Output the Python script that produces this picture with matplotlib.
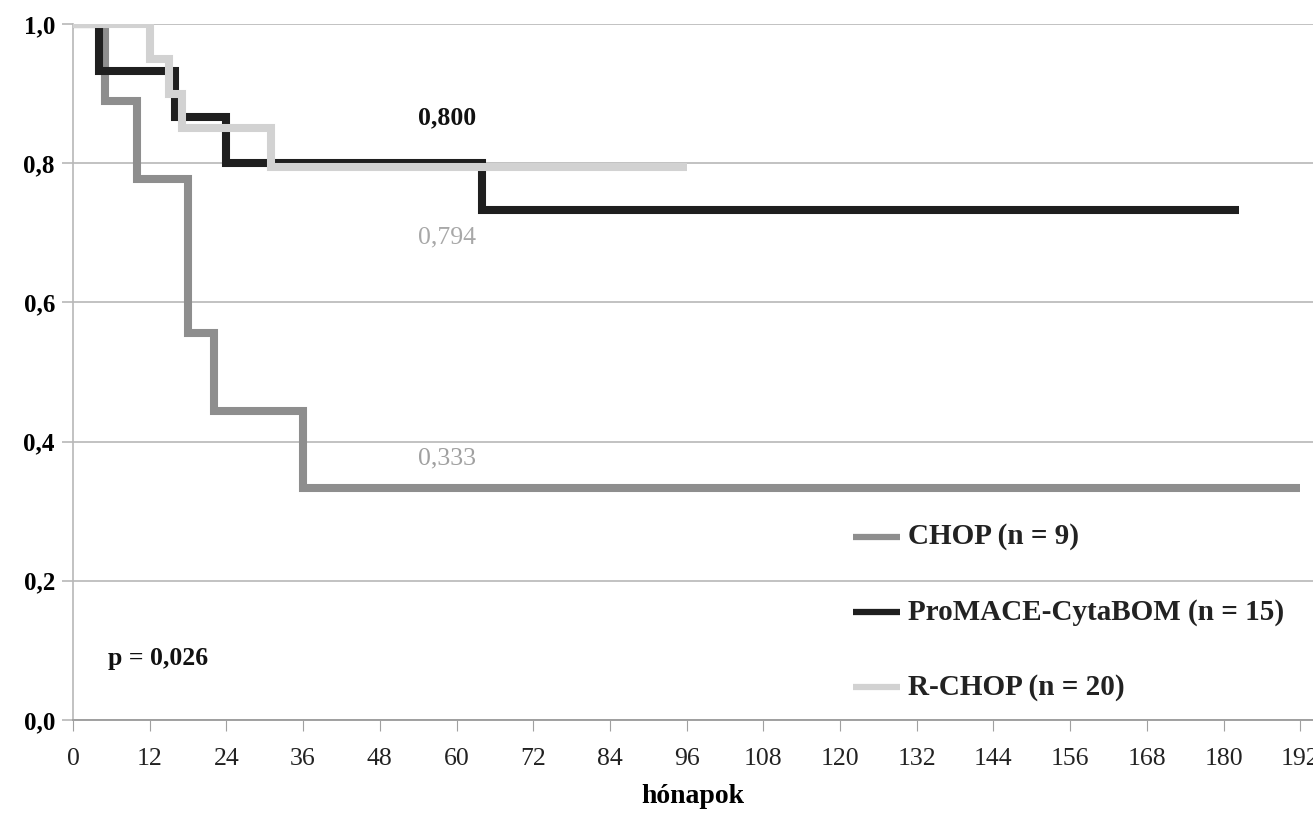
import matplotlib.pyplot as plt

plt.rcParams['font.family'] = ['Liberation Serif', 'DejaVu Serif']

# Kaplan-Meier steps (months, survival)
chop_t = [0, 5, 10, 18, 22, 36, 192]
chop_s = [1.0, 0.889, 0.778, 0.556, 0.444, 0.333, 0.333]

promace_t = [0, 4, 16, 24, 64, 182.5]
promace_s = [1.0, 0.933, 0.867, 0.800, 0.733, 0.733]

rchop_t = [0, 12, 15, 17, 31, 96]
rchop_s = [1.0, 0.950, 0.900, 0.850, 0.794, 0.794]

labels = ['CHOP (n = 9)', 'ProMACE-CytaBOM (n = 15)', 'R-CHOP (n = 20)']
colors = ['#8e8e8e', '#1f1f1f', '#d2d2d2']

x_ticks = list(range(0, 193, 12))
y_ticks = [0.0, 0.2, 0.4, 0.6, 0.8, 1.0]

fig = plt.figure(figsize=(13.13, 8.25), dpi=100)
ax = fig.add_axes([73 / 1313, 1 - 720 / 825, 1 - 73 / 1313, 696 / 825])

for t, s, c in [(chop_t, chop_s, colors[0]),
                (promace_t, promace_s, colors[1]),
                (rchop_t, rchop_s, colors[2])]:
    ax.step(t, s, where='post', color=c, lw=5.8, solid_joinstyle='miter',
            solid_capstyle='butt', zorder=3)

ax.set_xlim(0, 194)
ax.set_ylim(0, 1.0)
ax.set_xticks(x_ticks)
ax.set_xticklabels([str(v) for v in x_ticks], fontsize=18.5, color='#222222')
ax.set_yticks(y_ticks)
ax.set_yticklabels([f'{v:.1f}'.replace('.', ',') for v in y_ticks],
                   fontsize=18, fontweight='bold')
ax.grid(axis='y', color='#b8b8b8', lw=1.2, zorder=0)
ax.set_axisbelow(True)
ax.tick_params(axis='x', direction='out', length=8, color='#a0a0a0', pad=12)
ax.tick_params(axis='y', direction='out', length=8, color='#b8b8b8', width=1.2, pad=5)
for side in ['top', 'right']:
    ax.spines[side].set_visible(False)
ax.spines['left'].set_color('#b8b8b8')
ax.spines['bottom'].set_color('#a0a0a0')
ax.spines['left'].set_linewidth(1.2)
ax.spines['bottom'].set_linewidth(1.4)
ax.set_xlabel('hónapok', fontsize=20, fontweight='bold', labelpad=10)

# value labels
ax.text(58.5, 0.865, '0,800', fontsize=18.5, fontweight='bold', color='#111111', ha='center', va='center')
ax.text(58.5, 0.693, '0,794', fontsize=18.5, color='#a8a8a8', ha='center', va='center')
ax.text(58.5, 0.376, '0,333', fontsize=18.5, color='#a0a0a0', ha='center', va='center')
ax.text(5.5, 0.088, 'p = 0,026', fontsize=18.5, fontweight='bold', color='#111111', ha='left', va='center')

# manual legend
leg_y = [0.263, 0.155, 0.047]
for lab, c, y in zip(labels, colors, leg_y):
    ax.plot([122, 129.4], [y, y], color=c, lw=4.5, solid_capstyle='butt', zorder=4)
    ax.text(130.6, y, lab, fontsize=21, fontweight='bold', color='#222222',
            ha='left', va='center')

fig.savefig('out.png', dpi=100)
